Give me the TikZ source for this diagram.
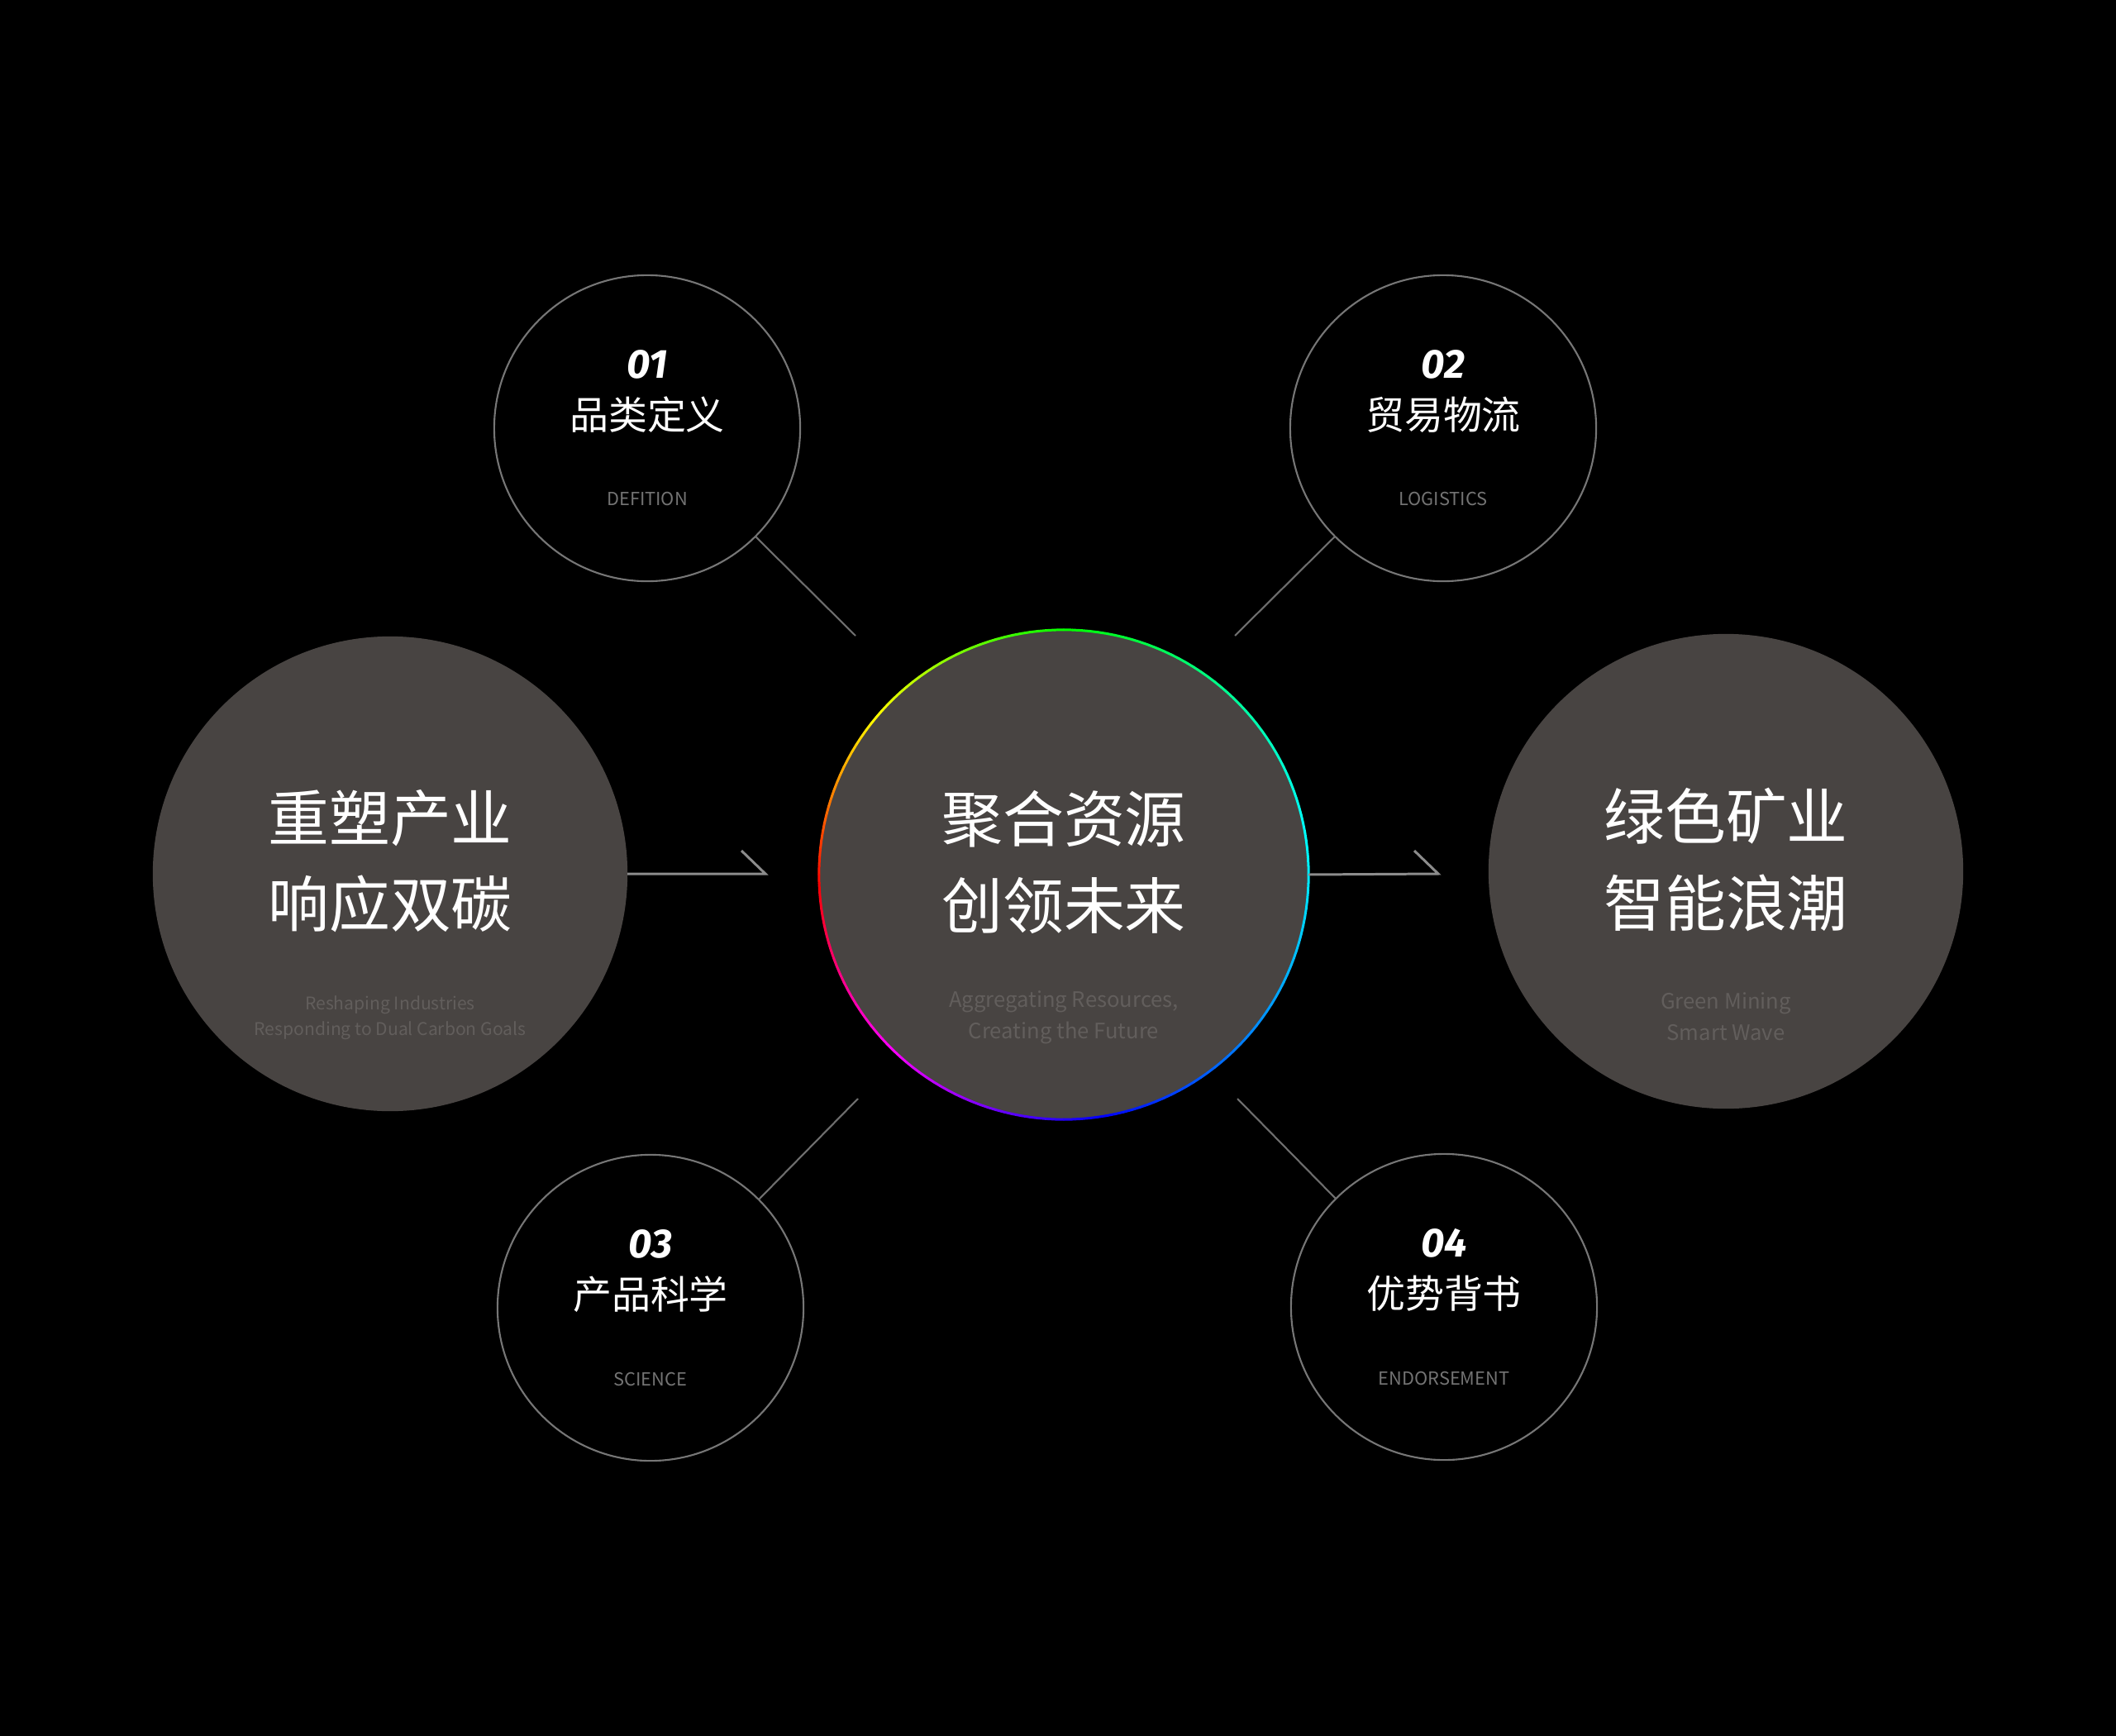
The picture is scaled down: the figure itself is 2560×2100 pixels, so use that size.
\documentclass[tikz,border=0pt]{standalone}
\usepackage{fontspec}
\usepackage{xcolor}
\setmainfont{Noto Sans CJK SC}
\newfontfamily\numfont{Fira Sans}
\definecolor{bubble}{RGB}{72,68,66}
\definecolor{subtext}{RGB}{98,94,92}
\definecolor{ring}{RGB}{118,118,118}
\definecolor{caption}{RGB}{115,115,115}
\definecolor{link}{RGB}{110,110,110}
\definecolor{pointergray}{RGB}{140,140,140}

\begin{document}
\begin{tikzpicture}[x=0.01cm, y=-0.01cm,
    bigdisc/.style={circle, fill=bubble, minimum size=5.74cm, inner sep=0pt, outer sep=0pt},
    hubdisc/.style={circle, fill=bubble, minimum size=5.92cm, inner sep=0pt, outer sep=0pt},
    smalldisc/.style={circle, draw=ring, line width=0.6pt, minimum size=3.70cm, inner sep=0pt, outer sep=0pt},
    bigtitle/.style={text=white, align=center, inner sep=0pt, font=\fontsize{21}{29.6}\selectfont},
    subtitle/.style={text=subtext, align=center, inner sep=0pt, font=\fontsize{7.3}{10.8}\selectfont},
    smalltitle/.style={text=white, inner sep=0pt, font=\fontsize{13.35}{15}\selectfont},
    numtag/.style={text=white, inner sep=0pt, font=\numfont\bfseries\itshape\fontsize{14}{15}\selectfont},
    captag/.style={text=caption, inner sep=0pt, font=\fontsize{6.2}{8}\selectfont},
    spoke/.style={draw=link, line width=0.6pt},
    pointer/.style={draw=pointergray, line width=0.85pt, line join=miter}]

    \fill[black] (0,0) rectangle (2560,2100);
    \useasboundingbox (0,0) rectangle (2560,2100);

    % three big discs
    \node[bigdisc] (left) at (472,1057) {};
    \node[hubdisc] (hub) at (1287,1058) {};
    \node[bigdisc] (right) at (2088,1054) {};

    % rainbow rim of the hub
    \foreach \a [remember=\a as \prev (initially 0)] in {2,4,...,360} {
      \pgfmathsetmacro\hue{mod(545-\a+25*sin(\a)+360,360)}
      \definecolor{rim}{Hsb}{\hue,1,1}
      \draw[rim, line width=0.85pt, line cap=round] (hub.\prev) -- (hub.\a);
    }

    \node[bigtitle] (lefttitle) at (472,1042) {重塑产业\\响应双碳};
    \node[bigtitle] (hubtitle) at (1287,1043) {聚合资源\\创领未来};
    \node[bigtitle] (righttitle) at (2088,1040) {绿色矿业\\智能浪潮};

    \node[subtitle, font=\fontsize{6.0}{8.8}\selectfont] (leftsub) at (472,1231) {Reshaping Industries\\Responding to Dual Carbon Goals};
    \node[subtitle] (hubsub) at (1287,1231) {Aggregating Resources,\\Creating the Future};
    \node[subtitle] (rightsub) at (2088,1230) {Green Mining\\Smart Wave};

    % four numbered badges
    \foreach \i/\cx/\cy/\zh/\en in {1/783/518/品类定义/DEFITION,
        2/1746/518/贸易物流/LOGISTICS,
        3/787/1582/产品科学/SCIENCE,
        4/1747/1581/优势背书/ENDORSEMENT}  {
      \node[smalldisc] (p\i) at (\cx,\cy) {};
      \node[numtag] (n\i) at (\cx,\cy-77) {0\i};
      \node[smalltitle] (t\i) at (\cx,\cy-16) {\zh};
      \node[captag] (e\i) at (\cx,\cy+86) {\en};
    }

    \coordinate (s1) at (1035,769);
    \coordinate (s2) at (1494,769);
    \coordinate (s3) at (1038,1329);
    \coordinate (s4) at (1497,1329);
    \draw[spoke] (p1.-45) -- (s1);
    \draw[spoke] (p2.-135) -- (s2);
    \draw[spoke] (p3.45) -- (s3);
    \draw[spoke] (p4.135) -- (s4);

    \coordinate (ltip) at (926,1057);
    \coordinate (lhook) at (897,1029);
    \coordinate (rtip) at (1740,1057);
    \coordinate (rhook) at (1711,1029);
    \draw[pointer] (left.east) -- (ltip) -- (lhook);
    \draw[pointer] (hub.east) -- (rtip) -- (rhook);

  \end{tikzpicture}
\end{document}
